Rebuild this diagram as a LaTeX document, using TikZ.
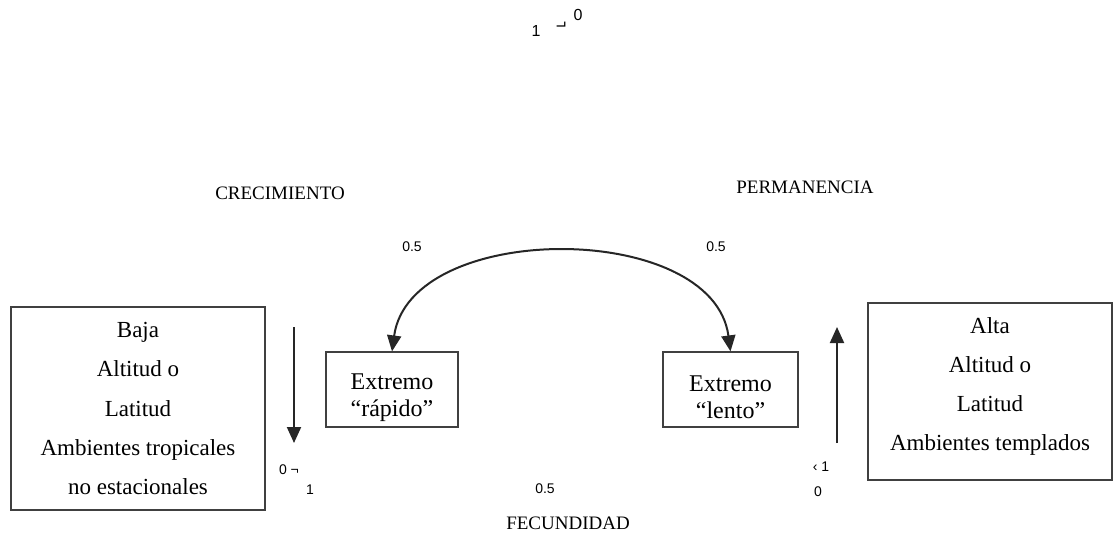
\documentclass[tikz,border=0pt]{standalone}
\usepackage{fontspec}
\usepackage{graphicx}
\setmainfont{Liberation Serif}
\newfontfamily\numfont{Liberation Sans}
\usetikzlibrary{arrows.meta}

\tikzset{
  zone/.style={draw=black!75, line width=0.6pt, align=center, font=\fontsize{11.5}{19.6}\selectfont, inner sep=0pt},
  extbox/.style={draw=black!75, line width=0.6pt, align=center, font=\fontsize{12}{13.5}\selectfont, inner sep=0pt},
  axis/.style={font=\fontsize{9.5}{11}\selectfont},
  num/.style={font=\numfont\fontsize{7}{8}\selectfont, inner sep=0pt},
  arr/.style={line width=1pt, black!85, -{Triangle[length=8pt,width=7pt]}},
}

\begin{document}
\begin{tikzpicture}[x=0.5pt,y=-0.5pt]
  \useasboundingbox (0,0) rectangle (1114,541);

  \node[num, font=\numfont\fontsize{8}{9}\selectfont] (topa) at (536,31) {1};
  \node[num, font=\numfont\fontsize{9}{9}\selectfont] (topm) at (561,24) {\scalebox{1}[-1]{¬}};
  \node[num, font=\numfont\fontsize{8}{9}\selectfont] (topb) at (578,15) {0};

  \node[axis] (crec) at (280,193) {CRECIMIENTO};
  \node[axis] (perm) at (805,187) {PERMANENCIA};
  \node[axis] (fec) at (568,523) {FECUNDIDAD};

  \node[num] (crecmid) at (412,247) {0.5};
  \node[num] (permmid) at (716,247) {0.5};
  \node[num] (fecmid) at (545,489) {0.5};

  \node[zone, minimum width=127pt, minimum height=101.5pt] (baja) at (138,408.5)
    {Baja\\Altitud o\\Latitud\\Ambientes tropicales\\no estacionales};
  \node[zone, minimum width=122pt, minimum height=88.5pt] (alta) at (990,391.5)
    {Alta\\Altitud o\\Latitud\\Ambientes templados\\[-12pt]\mbox{}};

  \node[extbox, minimum width=66pt, minimum height=37.5pt] (rapido) at (392,389.5)
    {\rule{0pt}{16pt}Extremo\\“rápido”};
  \node[extbox, minimum width=67.5pt, minimum height=37.5pt] (lento) at (730.5,389.5)
    {\rule{0pt}{16pt}Extremo\\“lento”};

  \draw[arr, {Triangle[length=8pt,width=7pt]}-{Triangle[length=8pt,width=7pt]}]
    (rapido.north) .. controls (410,220) and (713,220) .. (lento.north);

  \coordinate (dtop) at (294,327);
  \coordinate (dbot) at (294,443);
  \draw[arr] (dtop) -- (dbot);
  \coordinate (ubot) at (837,443);
  \coordinate (utop) at (837,327);
  \draw[arr] (ubot) -- (utop);

  \node[num] (lz) at (289,470) {0 ¬};
  \node[num] (lo) at (310,490) {1};
  \node[num] (rz) at (821,467) {‹ 1};
  \node[num] (ro) at (818,492) {0};
\end{tikzpicture}
\end{document}
